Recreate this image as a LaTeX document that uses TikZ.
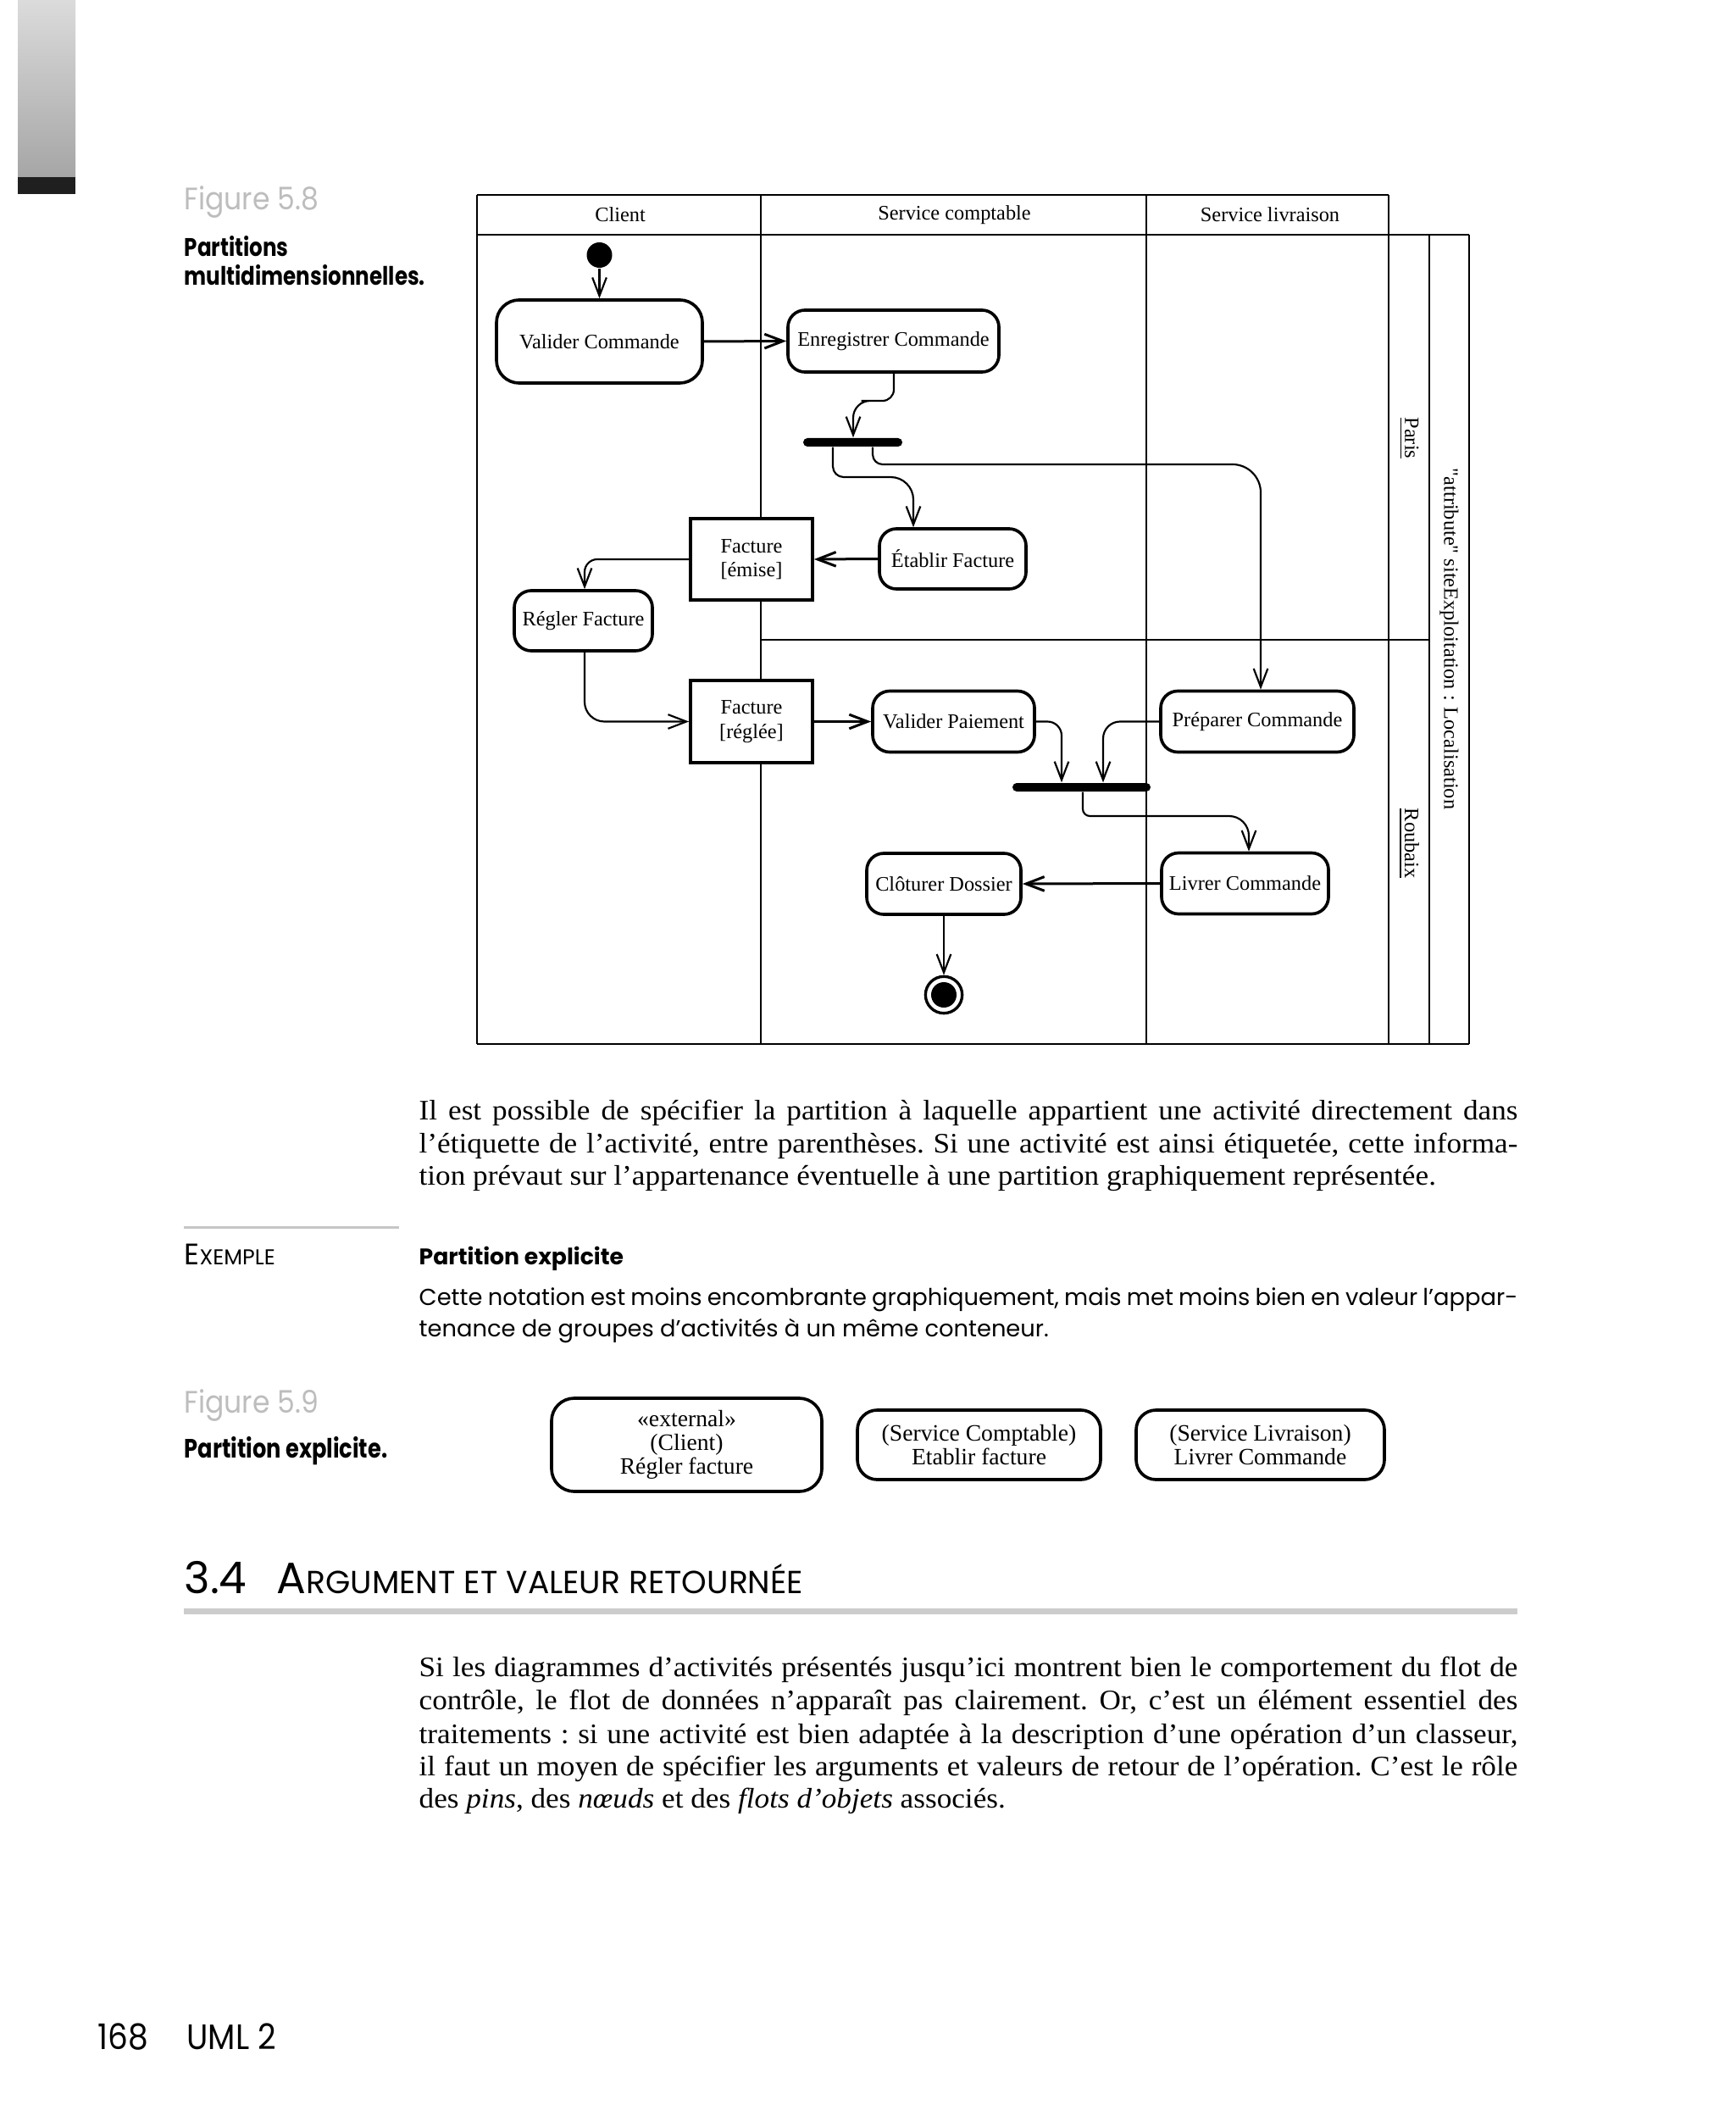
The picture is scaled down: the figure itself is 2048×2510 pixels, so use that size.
\documentclass[tikz,border=0pt]{standalone}
\usepackage{fontspec}
\setmainfont{Liberation Serif}
\newfontfamily\gar{Liberation Serif}[FakeStretch=1.056]
\newfontfamily\rawserif{Liberation Serif}[Ligatures=TeXOff]
\newfontfamily\fut{Poppins}
\newfontfamily\futn{Poppins}[FakeStretch=0.9]
\newfontfamily\futc{Poppins}[FakeStretch=0.82]
\usetikzlibrary{arrows.meta,calc}
\newcommand{\dfont}{\fontsize{7.3}{8.6}\selectfont}
\newcommand{\boxfont}{\fontsize{8.3}{8.5}\selectfont}
\newcommand{\bodyfont}{\gar\fontsize{10}{11.6}\selectfont\frenchspacing}
\newcommand{\sansbody}{\fut\fontsize{8.2}{11.6}\selectfont\frenchspacing}
\newcommand{\jl}[1]{\makebox[389pt][s]{#1}}
\begin{document}
\begin{tikzpicture}[x=0.3pt,y=-0.3pt,
  lane/.style={line width=0.8pt},
  act/.style={draw, line width=1.1pt, rounded corners=6pt, inner sep=0pt, font=\dfont, align=center, fill=white},
  obj/.style={draw, fill=white, line width=1.1pt, inner sep=0pt, font=\dfont, align=center},
  forkbar/.style={fill=black, rounded corners=1.5pt, inner sep=0pt, minimum height=3pt},
  flow/.style={line width=0.65pt, -{Straight Barb[length=6.5pt,width=5pt]}},
  hflow/.style={flow, line width=0.9pt},
  para/.style={anchor=base west, inner sep=0pt, font=\bodyfont},
  spara/.style={anchor=base west, inner sep=0pt, font=\sansbody},
  lbl/.style={font=\dfont, inner sep=0pt}]
\fill[white] (0,0) rectangle (2048,2510);
\useasboundingbox (0,0) rectangle (2048,2510);

% left decoration
\shade[top color=gray!28, bottom color=gray!70] (21,0) rectangle (89,209);
\fill[black!88] (21,209) rectangle (89,229);

% Figure 5.8 caption
\node[anchor=base west, inner sep=0pt, font=\futn\fontsize{11}{13}\selectfont, text=gray!52] (f58) at (217,248) {Figure 5.8};
\node[anchor=base west, inner sep=0pt, font=\futc\bfseries\fontsize{9}{11}\selectfont] (c58a) at (217,303) {Partitions};
\node[anchor=base west, inner sep=0pt, font=\futc\bfseries\fontsize{9}{11}\selectfont] (c58b) at (217,337) {multidimensionnelles.};

% swimlane frame
\draw[lane] (563,230) -- (1639,230);
\draw[lane] (563,277) -- (1734,277);
\draw[lane] (563,1232) -- (1734,1232);
\draw[lane] (563,230) -- (563,1232);
\draw[lane] (898,230) -- (898,1232);
\draw[lane] (1353,230) -- (1353,1232);
\draw[lane] (1639,230) -- (1639,1232);
\draw[lane] (1687,277) -- (1687,1232);
\draw[lane] (1734,277) -- (1734,1232);
\draw[lane] (898,755) -- (1687,755);

\node[lbl] (hc) at (732,253.5) {Client};
\node[lbl] (hsc) at (1126.5,253.5) {Service comptable};
\node[lbl] (hsl) at (1499,253.5) {Service livraison};
\node[lbl, rotate=-90] (paris) at (1663,517) {\underline{Paris}};
\node[lbl, rotate=-90] (roubaix) at (1663,995) {\underline{Roubaix}};
\node[lbl, rotate=-90] (attr) at (1710.5,754) {\rawserif"attribute" siteExploitation : Localisation};

% nodes
\node[circle, fill, minimum size=9pt, inner sep=0pt] (init) at (707.5,301) {};
\node[act, rounded corners=8pt, minimum width=72.9pt, minimum height=29.4pt] (vc) at (707.5,403) {Valider Commande};
\node[act, minimum width=74.7pt, minimum height=21.9pt] (ec) at (1054.5,402.5) {Enregistrer Commande};
\node[forkbar, minimum width=35.1pt] (bar1) at (1006.5,522) {};
\node[act, minimum width=51.9pt, minimum height=21.3pt] (ef) at (1124.5,659.5) {Établir Facture};
\node[obj, minimum width=43.2pt, minimum height=28.8pt] (fe) at (887,660) {Facture\\{[émise]}};
\node[act, minimum width=48.9pt, minimum height=21.3pt] (rf) at (688.5,732.5) {Régler Facture};
\node[obj, minimum width=43.2pt, minimum height=29.1pt] (fr) at (887,851.5) {Facture\\{[réglée]}};
\node[act, minimum width=57.3pt, minimum height=21.6pt] (vp) at (1125.5,851.5) {Valider Paiement};
\node[act, minimum width=68.4pt, minimum height=21.6pt] (pc) at (1484,851.5) {Préparer Commande};
\node[forkbar, minimum width=48.9pt] (bar2) at (1276.5,929) {};
\node[act, minimum width=59.1pt, minimum height=21.6pt] (lc) at (1469.5,1042.5) {Livrer Commande};
\node[act, minimum width=54.6pt, minimum height=21.6pt] (cd) at (1114,1043) {Clôturer Dossier};
\node[circle, draw, line width=1pt, minimum size=13pt, inner sep=0pt] (fin) at (1114,1174) {};
\node[circle, fill, minimum size=9pt, inner sep=0pt] (fincore) at (fin) {};

% flows
\draw[flow] (init) -- (vc.north);
\draw[hflow] (vc.east) -- (ec.west);
\draw[flow] (1055,0 |- ec.south) [rounded corners=4pt] |- (1030,473) [rounded corners=6pt] -| (1007,0 |- bar1.north);
\draw[flow] (983,0 |- bar1.south) [rounded corners=3.8pt] |- (1040,563) [rounded corners=8pt] -| (1078,0 |- ef.north);
\draw[flow] (1030,0 |- bar1.south) [rounded corners=3.5pt] |- (1300,548) [rounded corners=10pt] -| (1488,0 |- pc.north);
\draw[hflow] (ef.west) -- (fe.east);
\draw[flow, rounded corners=4.5pt] (fe.west) -| (690,0 |- rf.north);
\draw[flow, rounded corners=7pt] (690,0 |- rf.south) |- (fr.west);
\draw[hflow] (fr.east) -- (vp.west);
\draw[flow, rounded corners=5pt] (vp.east) -| (1253,0 |- bar2.north);
\draw[flow, rounded corners=6pt] (pc.west) -| (1302,0 |- bar2.north);
\draw[flow] (1278,0 |- bar2.south) [rounded corners=2.5pt] |- (1400,963) [rounded corners=7pt] -| (1474,0 |- lc.north);
\draw[hflow] (lc.west) -- (cd.east);
\draw[flow] (cd.south) -- (fin.north);

% paragraph 1
\node[para] (p1a) at (494,1321) {\jl{Il est possible de spécifier la partition à laquelle appartient une activité directement dans}};
\node[para] (p1b) at (494,1360) {\jl{l’étiquette de l’activité, entre parenthèses. Si une activité est ainsi étiquetée, cette informa-}};
\node[para] (p1c) at (494,1398) {tion prévaut sur l’appartenance éventuelle à une partition graphiquement représentée.};

% exemple
\draw[gray!45, line width=0.9pt] (217,1448) -- (471,1448);
\node[anchor=base west, inner sep=0pt] (ex) at (217,1492) {\fut\fontsize{10.5}{12}\selectfont E\fontsize{7.6}{12}\selectfont XEMPLE};
\node[anchor=base west, inner sep=0pt, font=\fut\bfseries\fontsize{8}{11}\selectfont] (pe) at (494,1492) {Partition explicite};
\node[spara] (s1) at (494,1540) {\jl{Cette notation est moins encombrante graphiquement, mais met moins bien en valeur l’appar-}};
\node[spara] (s2) at (494,1577) {tenance de groupes d’activités à un même conteneur.};

% Figure 5.9
\node[anchor=base west, inner sep=0pt, font=\futn\fontsize{11}{13}\selectfont, text=gray!52] (f59) at (217,1667) {Figure 5.9};
\node[anchor=base west, inner sep=0pt, font=\futc\bfseries\fontsize{9.4}{11}\selectfont] (c59) at (217,1720) {Partition explicite.};
\node[act, font=\boxfont, rounded corners=8pt, minimum width=95.7pt, minimum height=33pt] (b1) at (810.5,1705) {«external»\\(Client)\\Régler facture};
\node[act, font=\boxfont, rounded corners=7pt, minimum width=86.1pt, minimum height=24.6pt] (b2) at (1155.5,1705) {(Service Comptable)\\Etablir facture};
\node[act, font=\boxfont, rounded corners=7pt, minimum width=87.9pt, minimum height=24.6pt] (b3) at (1487.5,1705) {(Service Livraison)\\Livrer Commande};

% heading
\node[anchor=base west, inner sep=0pt, font=\fut\fontsize{15.5}{17}\selectfont] (h34) at (217,1880) {3.4};
\node[anchor=base west, inner sep=0pt] (htitle) at (326,1880) {\fut\fontsize{15.5}{17}\selectfont A\fontsize{11.3}{17}\selectfont RGUMENT ET VALEUR RETOURNÉE};
\draw[gray!40, line width=2.1pt] (217,1901.5) -- (1791,1901.5);

% paragraph 2
\node[para] (p2a) at (494,1978) {\jl{Si les diagrammes d’activités présentés jusqu’ici montrent bien le comportement du flot de}};
\node[para] (p2b) at (494,2017) {\jl{contrôle, le flot de données n’apparaît pas clairement. Or, c’est un élément essentiel des}};
\node[para] (p2c) at (494,2057) {\jl{traitements : si une activité est bien adaptée à la description d’une opération d’un classeur,}};
\node[para] (p2d) at (494,2095) {\jl{il faut un moyen de spécifier les arguments et valeurs de retour de l’opération. C’est le rôle}};
\node[para] (p2e) at (494,2133) {des \textit{pins}, des \textit{nœuds} et des \textit{flots d’objets} associés.};

% footer
\node[anchor=base west, inner sep=0pt, font=\futn\fontsize{12.5}{14}\selectfont] (pg) at (115,2418) {168};
\node[anchor=base west, inner sep=0pt, font=\futn\fontsize{12.5}{14}\selectfont] (uml) at (220,2418) {UML 2};
\end{tikzpicture}
\end{document}
